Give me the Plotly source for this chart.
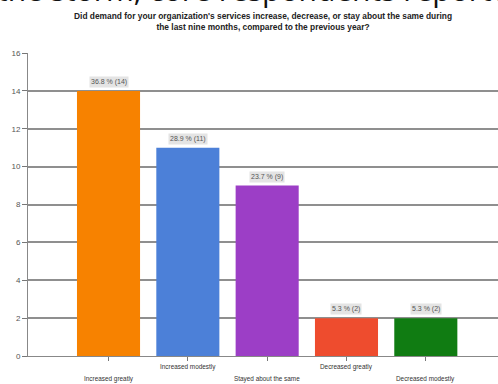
import plotly.graph_objects as go

categories = ["Increased greatly", "Increased modestly", "Stayed about the same",
              "Decreased greatly", "Decreased modestly"]
counts = [14, 11, 9, 2, 2]
percents = [36.8, 28.9, 23.7, 5.3, 5.3]
bar_colors = ["#f78200", "#4c80d8", "#9c3ec6", "#ee4c2e", "#107c12"]
y_ticks = [0, 2, 4, 6, 8, 10, 12, 14, 16]

W, H = 498, 384
M_L, M_R, M_T, M_B = 28, 0, 53, 28
plot_h = H - M_T - M_B

def py(px):
    """Convert a pixel row to paper y."""
    return (H - M_B - px) / plot_h

x_idx = list(range(len(categories)))

fig = go.Figure()
fig.add_trace(go.Bar(
    x=x_idx, y=counts, width=0.795,
    marker=dict(color=bar_colors, line=dict(width=0)),
    hoverinfo="skip",
))

annotations = []
# value labels above each bar
for i, (c, p) in enumerate(zip(counts, percents)):
    annotations.append(dict(
        x=i, y=c, xref="x", yref="y", yanchor="bottom", yshift=3,
        text=f"{p} % ({c})", showarrow=False,
        font=dict(family="Liberation Sans, Arial", size=7, color="#555"),
        bgcolor="#e4e4e4", borderpad=1,
    ))
# staggered category labels
for i, name in enumerate(categories):
    row = 379 if i % 2 == 0 else 367
    annotations.append(dict(
        x=i, y=py(row), xref="x", yref="paper", yanchor="middle",
        text=name, showarrow=False,
        font=dict(family="Liberation Sans, Arial", size=6.4, color="#333"),
    ))
# chart title
annotations.append(dict(
    x=0.5, y=py(22), xref="paper", yref="paper", xanchor="center", yanchor="middle",
    text="<b>Did demand for your organization's services increase, decrease, or stay about the same during<br>the last nine months, compared to the previous year?</b>",
    showarrow=False,
    font=dict(family="Liberation Sans, Arial", size=8.4, color="#222"),
))
# heading text running off the top edge
annotations.append(dict(
    x=-0.07, y=py(14), xref="paper", yref="paper", xanchor="left", yanchor="bottom",
    yshift=2,
    text="the storm, core respondents reporte", showarrow=False,
    font=dict(family="Open Sans", size=30, color="#111"),
))

fig.update_layout(
    width=W, height=H,
    margin=dict(l=M_L, r=M_R, t=M_T, b=M_B),
    paper_bgcolor="white", plot_bgcolor="white",
    showlegend=False,
    annotations=annotations,
    xaxis=dict(
        range=[-1.015, 4.91], tickvals=x_idx, ticktext=[""] * len(x_idx),
        ticks="outside", ticklen=4, tickcolor="#777",
        showgrid=False, zeroline=False,
        showline=True, linecolor="#888", linewidth=1,
    ),
    yaxis=dict(
        range=[0, 16], tickvals=y_ticks,
        ticks="outside", ticklen=5, tickcolor="#777",
        tickfont=dict(family="Liberation Sans, Arial", size=8, color="#555"),
        showgrid=True, gridcolor="#8f8f8f", gridwidth=1.5,
        zeroline=False, showline=True, linecolor="#888", linewidth=1,
    ),
)

fig.write_html("out.html")
